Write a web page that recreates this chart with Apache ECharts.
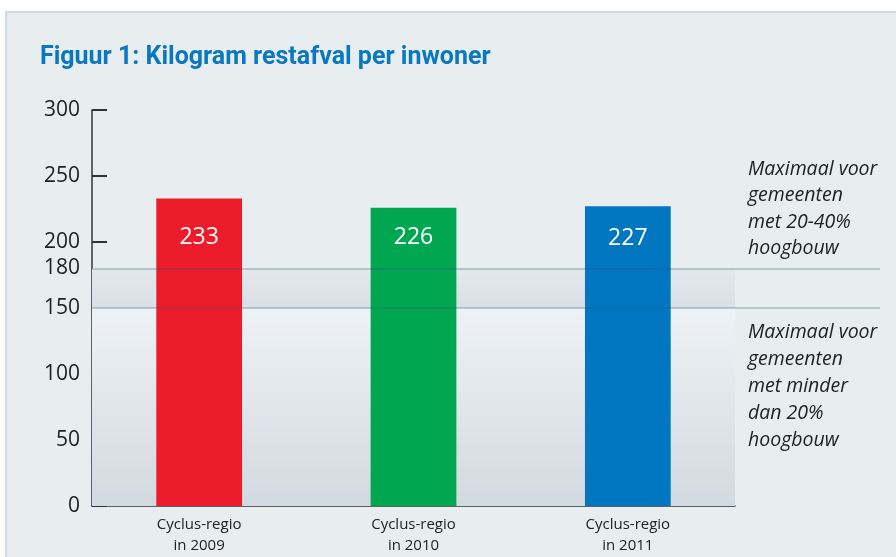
<!DOCTYPE html>
<html>
<head>
<meta charset="utf-8">
<script src="https://cdn.jsdelivr.net/npm/echarts@6/dist/echarts.min.js"></script>
<style>
  html, body { margin: 0; padding: 0; background: #ffffff; }
  #wrap { position: relative; width: 896px; height: 557px; overflow: hidden; background: #ffffff; }
  #panel { position: absolute; left: 5px; top: 11px; right: 0; bottom: 0; background: #e8edf0;
           border-top: 2px solid #d3dadf; border-left: 2px solid #d3dadf; }
  #chart { position: absolute; left: 0; top: 0; width: 896px; height: 557px; }
</style>
</head>
<body>
<div id="wrap">
  <div id="panel"></div>
  <div id="chart"></div>
</div>
<script>
// ---- data ----
const titleText = 'Figuur 1: Kilogram restafval per inwoner';
const categories = ['Cyclus-regio\nin 2009', 'Cyclus-regio\nin 2010', 'Cyclus-regio\nin 2011'];
const values = [233, 226, 227];
const yMin = 0, yMax = 300, yInterval = 50;
const refUpper = 180;   // line with extra axis label
const refLower = 150;
const noteUpper = ['Maximaal voor', 'gemeenten', 'met 20-40%', 'hoogbouw'];
const noteLower = ['Maximaal voor', 'gemeenten', 'met minder', 'dan 20%', 'hoogbouw'];

const barColors = ['#ed1c2a', '#00a650', '#0077c0'];
const labelDistances = [28, 18, 21];
const font = '"Open Sans", "DejaVu Sans", sans-serif';

const chart = echarts.init(document.getElementById('chart'), null, { renderer: 'canvas' });

const option = {
  backgroundColor: 'transparent',
  animation: false,
  title: {
    text: titleText,
    left: 40, top: 45, padding: 0,
    textStyle: { fontFamily: 'Roboto, "Open Sans", sans-serif', fontWeight: 'bold', fontSize: 25, color: '#0a78c0' }
  },
  grid: [
    { left: 92, right: 161, top: 110, bottom: 51, containLabel: false },
    { left: 92, right: 16, top: 110, bottom: 51, containLabel: false }
  ],
  xAxis: [
    {
      type: 'category', gridIndex: 0, data: categories,
      axisLine: { lineStyle: { color: '#333333', width: 1.5 } },
      axisTick: { inside: true, length: 10, lineStyle: { color: '#333333', width: 1.5 } },
      axisLabel: { color: '#222222', fontFamily: font, fontSize: 15, lineHeight: 21, margin: 8 }
    },
    { type: 'value', gridIndex: 1, min: 0, max: 1, show: false }
  ],
  yAxis: [
    {
      type: 'value', gridIndex: 0, min: yMin, max: yMax, interval: yInterval,
      axisLine: { show: true, lineStyle: { color: '#333333', width: 1.5 } },
      axisTick: { show: true, inside: true, length: 15, lineStyle: { color: '#333333', width: 2 } },
      axisLabel: { color: '#222222', fontFamily: font, fontSize: 21, margin: 12 },
      splitLine: { show: false }
    },
    { type: 'value', gridIndex: 1, min: yMin, max: yMax, show: false }
  ],
  series: [
    {
      // shaded background bands inside the plot
      type: 'line', xAxisIndex: 0, yAxisIndex: 0, data: [], z: 1, silent: true,
      markArea: {
        silent: true,
        data: [
          [ { yAxis: refLower, itemStyle: { color: new echarts.graphic.LinearGradient(0, 0, 0, 1, [
                { offset: 0, color: '#e3e8ec' }, { offset: 1, color: '#d9e0e6' } ]) } },
            { yAxis: refUpper } ],
          [ { yAxis: yMin, itemStyle: { color: new echarts.graphic.LinearGradient(0, 0, 0, 1, [
                { offset: 0, color: '#eef2f5' }, { offset: 1, color: '#d2d9e0' } ]) } },
            { yAxis: refLower } ]
        ]
      }
    },
    {
      type: 'bar', xAxisIndex: 0, yAxisIndex: 0, z: 3,
      barWidth: '40%',
      data: values.map((v, i) => ({ value: v, itemStyle: { color: barColors[i] },
                                    label: { distance: labelDistances[i] } })),
      label: {
        show: true, position: 'insideTop', distance: 28,
        color: '#ffffff', fontFamily: font, fontSize: 23
      }
    },
    {
      // reference lines spanning to the annotations
      type: 'line', xAxisIndex: 1, yAxisIndex: 1, data: [], z: 5, silent: true,
      markLine: {
        silent: true, symbol: 'none',
        lineStyle: { color: 'rgba(40,80,115,0.25)', width: 2, type: 'solid' },
        data: [
          { yAxis: refUpper, label: { show: true, position: 'start', formatter: String(refUpper),
              color: '#222222', fontFamily: font, fontSize: 21, distance: 12 } },
          { yAxis: refLower, label: { show: false } }
        ]
      }
    }
  ],
  graphic: [
    { type: 'text', left: 748, top: 156, silent: true,
      style: { text: noteUpper.join('\n'), fill: '#222222', font: 'italic 19.5px ' + font, lineHeight: 26.5 } },
    { type: 'text', left: 748, top: 319, silent: true,
      style: { text: noteLower.join('\n'), fill: '#222222', font: 'italic 19.5px ' + font, lineHeight: 27 } }
  ]
};
chart.setOption(option);
</script>
</body>
</html>
